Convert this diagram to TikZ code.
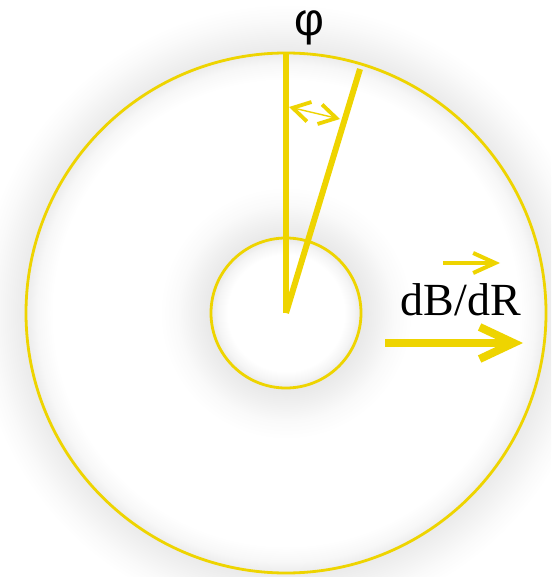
\documentclass[tikz,border=0pt]{standalone}
\usepackage{fontspec}
\setmainfont{Liberation Serif}
\newfontfamily\phifont{Liberation Sans}
\usetikzlibrary{arrows.meta}

\definecolor{butter}{RGB}{238,212,0}
% glows, sized in bp (1px of the picture = 0.5pt)
\pgfdeclareradialshading{outerglow}{\pgfpoint{0bp}{0bp}}{color(0bp)=(white); color(116bp)=(white); color(124bp)=(black!3); color(130bp)=(black!8); color(138bp)=(black!5); color(146bp)=(black!2); color(154bp)=(white); color(156bp)=(white)}
\pgfdeclareradialshading{innerglow}{\pgfpoint{0bp}{0bp}}{color(0bp)=(white); color(29bp)=(white); color(34bp)=(black!4); color(37.5bp)=(black!9); color(45bp)=(black!6); color(54bp)=(black!2); color(63bp)=(white); color(65bp)=(white)}

\begin{document}
\begin{tikzpicture}[x=0.5pt, y=-0.5pt,
    glow/.style={inner sep=0pt, outer sep=0pt},
    ring/.style={draw=butter, line width=1.4pt},
    spoke/.style={draw=butter, line width=3pt},
    angletip/.tip={Straight Barb[length=8.5pt, width=10pt, line width=1.9pt]}]
    \clip (0,0) rectangle (551,577);
    \fill[white] (0,0) rectangle (551,577);

    \coordinate (O) at (286,313);
    \coordinate (top) at (286,54);
    \coordinate (tilt) at (360,69);
    \coordinate (a1) at (289,107);
    \coordinate (a2) at (340,119);
    \coordinate (g1) at (443,263);
    \coordinate (g2) at (500,263);
    \coordinate (b1) at (385,343);
    \coordinate (b2) at (523,343);

    % soft shadows round the two rings
    \node (glowout) [glow] at (O) {\pgfuseshading{outerglow}};
    \node (glowin) [glow] at (O) {\pgfuseshading{innerglow}};

    \draw[ring] (O) circle[radius=260];
    \draw[ring] (O) circle[radius=75];

    \draw[spoke] (O) -- (top);
    \draw[spoke] (O) -- (tilt);
    \draw[butter, line width=0.7pt, {angletip}-{angletip}] (a1) -- (a2);

    \node (phi) at (309,28) {\phifont\fontsize{23pt}{23pt}\selectfont φ};
    \node (dbdr) [anchor=base] at (461,315) {\fontsize{23pt}{23pt}\selectfont dB/dR};

    \draw[butter, line width=2pt, -{Straight Barb[length=11pt, width=10pt]}] (g1) -- (g2);
    \draw[butter, line width=4pt, -{Straight Barb[length=17pt, width=16pt]}] (b1) -- (b2);
\end{tikzpicture}
\end{document}
